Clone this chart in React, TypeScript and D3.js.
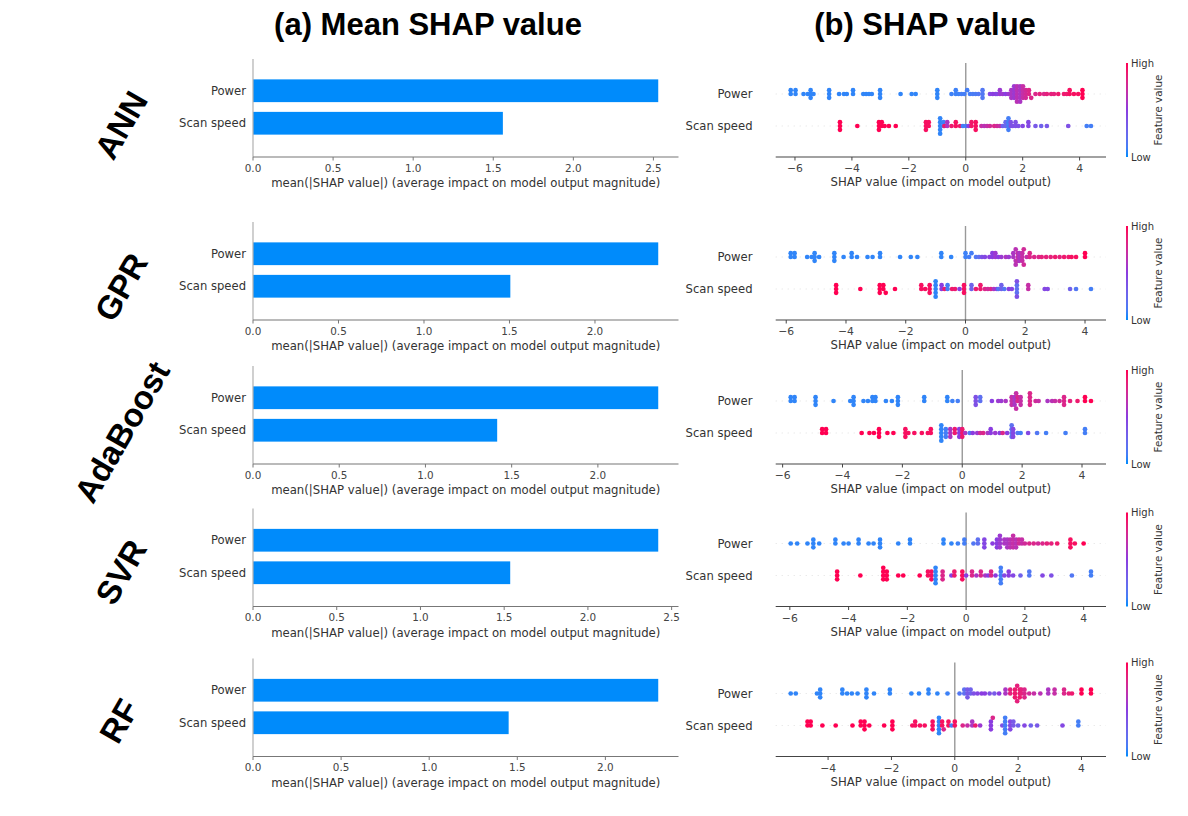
import React from "react";
import * as d3 from "d3";

// ---------- data ----------
const models = ["ANN", "GPR", "AdaBoost", "SVR", "RF"];
const features = ["Power", "Scan speed"];
const meanPower = [2.53, 2.37, 2.35, 2.42, 2.3];
const meanScan = [1.56, 1.505, 1.416, 1.536, 1.451];
const barTicks = [0, 0.5, 1.0, 1.5, 2.0, 2.5];
const shapTicks = [-6, -4, -2, 0, 2, 4];

// [SHAP value, feature value (0 low .. 1 high), number of samples]
type G = [number, number, number];
const annPower: G[] = [[-6.15,0.05,2],[-5.98,0.05,2],[-5.7,0.05,1],[-5.55,0.05,1],[-5.45,0.05,3],[-5.35,0.05,1],[-4.8,0.05,3],[-4.45,0.05,1],[-4.28,0.05,1],[-4.18,0.05,1],[-3.96,0.05,2],[-3.6,0.05,1],[-3.5,0.05,1],[-3.4,0.05,1],[-3.3,0.05,1],[-3.01,0.05,3],[-2.29,0.05,1],[-1.9,0.05,1],[-1.76,0.05,1],[-1.0,0.05,3],[-0.5,0.08,1],[-0.35,0.08,2],[-0.25,0.08,1],[-0.15,0.1,1],[-0.05,0.1,1],[0.05,0.1,1],[0.15,0.1,1],[0.25,0.12,1],[0.35,0.12,1],[0.45,0.15,1],[0.59,0.15,3],[0.85,0.45,1],[0.95,0.5,1],[1.05,0.5,1],[1.1,0.45,1],[1.2,0.55,2],[1.3,0.55,1],[1.4,0.5,1],[1.5,0.55,1],[1.6,0.6,3],[1.7,0.55,4],[1.8,0.65,5],[1.91,0.6,5],[2.01,0.7,4],[2.11,0.75,3],[2.22,0.8,2],[2.3,0.8,1],[2.45,0.8,1],[2.6,0.85,1],[2.75,0.8,1],[2.85,0.85,1],[3.0,0.85,1],[3.1,0.85,1],[3.25,0.9,1],[3.45,0.9,1],[3.55,0.9,1],[3.65,0.95,2],[3.8,0.95,1],[3.95,0.95,1],[4.1,1,3]];
const annScan: G[] = [[-4.42,1,3],[-3.81,1,1],[-3.05,1,3],[-2.95,1,2],[-2.85,1,1],[-2.7,1,1],[-2.46,1,1],[-1.4,0.95,3],[-1.3,0.95,2],[-0.9,0.05,5],[-0.78,0.08,2],[-0.75,0.9,1],[-0.65,0.6,2],[-0.5,0.9,1],[-0.35,0.95,2],[-0.2,0.9,1],[-0.1,0.1,1],[0.0,0.1,1],[0.1,0.5,1],[0.2,0.92,2],[0.35,0.95,3],[0.55,0.7,1],[0.65,0.65,1],[0.75,0.7,1],[0.85,0.75,1],[1.0,0.8,1],[1.1,0.75,1],[1.2,0.7,1],[1.3,0.3,1],[1.4,0.25,2],[1.5,0.1,4],[1.58,0.4,2],[1.65,0.4,1],[1.75,0.4,2],[1.85,0.4,1],[2.0,0.45,1],[2.2,0.45,2],[2.45,0.35,1],[2.65,0.3,1],[2.85,0.35,1],[3.6,0.4,1],[4.25,0.1,1],[4.4,0.1,1]];
const gprPower: G[] = [[-5.85,0.05,2],[-5.72,0.05,2],[-5.3,0.05,1],[-5.15,0.05,1],[-5.05,0.05,3],[-4.9,0.05,1],[-4.39,0.05,3],[-4.08,0.05,1],[-3.81,0.05,2],[-3.63,0.05,1],[-3.28,0.05,1],[-3.11,0.05,1],[-2.86,0.05,2],[-2.19,0.05,1],[-1.83,0.05,1],[-1.61,0.05,1],[-0.81,0.05,2],[-0.48,0.05,1],[0.0,0.08,2],[0.12,0.1,1],[0.2,0.1,1],[0.35,0.15,1],[0.45,0.2,1],[0.55,0.4,1],[0.65,0.45,1],[0.8,0.5,1],[0.9,0.5,2],[1.0,0.55,2],[1.1,0.5,1],[1.2,0.55,1],[1.35,0.6,1],[1.45,0.55,1],[1.6,0.6,2],[1.68,0.65,3],[1.75,0.7,3],[1.8,0.6,3],[1.9,0.7,3],[1.95,0.75,2],[2.05,0.7,1],[2.15,0.8,2],[2.3,0.8,1],[2.45,0.8,1],[2.55,0.85,1],[2.7,0.85,1],[2.85,0.85,1],[3.0,0.9,1],[3.15,0.85,1],[3.3,0.9,1],[3.45,0.9,1],[3.55,0.95,1],[3.7,0.95,1],[4.0,1,2]];
const gprScan: G[] = [[-4.33,1,3],[-3.52,1,1],[-2.87,1,3],[-2.75,1,2],[-2.67,1,1],[-2.36,1,1],[-1.48,0.95,2],[-1.35,0.95,1],[-1.2,0.95,3],[-1.0,0.05,5],[-0.8,0.5,2],[-0.7,0.9,1],[-0.6,0.1,2],[-0.45,0.9,1],[-0.35,0.9,1],[-0.2,0.5,1],[-0.05,0.95,3],[0.2,0.3,2],[0.35,0.9,1],[0.5,0.9,2],[0.65,0.8,1],[0.75,0.75,1],[0.85,0.8,1],[0.95,0.6,1],[1.05,0.5,1],[1.1,0.15,1],[1.2,0.3,2],[1.3,0.15,1],[1.45,0.5,1],[1.55,0.45,1],[1.72,0.2,3],[1.72,0.4,2],[2.1,0.7,2],[2.65,0.45,1],[2.75,0.45,1],[3.5,0.3,1],[3.7,0.15,1],[4.2,0.1,1]];
const adaPower: G[] = [[-5.73,0.05,2],[-5.6,0.05,2],[-4.9,0.05,3],[-4.3,0.05,1],[-3.74,0.05,1],[-3.63,0.05,3],[-3.3,0.05,1],[-3.15,0.05,1],[-3.0,0.05,2],[-2.9,0.05,2],[-2.55,0.05,1],[-2.35,0.05,1],[-2.15,0.05,3],[-1.27,0.05,2],[-0.5,0.05,2],[-0.33,0.08,1],[-0.15,0.1,1],[0.45,0.4,3],[0.6,0.2,2],[0.99,0.5,1],[1.2,0.55,1],[1.3,0.55,1],[1.45,0.6,1],[1.65,0.7,3],[1.75,0.6,3],[1.8,0.7,2],[1.85,0.8,2],[1.95,0.7,3],[2.26,0.8,4],[2.45,0.75,1],[2.55,0.7,1],[2.85,0.6,1],[3.0,0.65,1],[3.1,0.7,1],[3.25,0.75,1],[3.4,0.8,3],[3.6,0.85,1],[3.85,0.9,1],[4.1,1,2],[4.3,1,1]];
const adaScan: G[] = [[-4.68,1,2],[-4.55,1,2],[-3.36,1,1],[-3.1,1,1],[-2.95,1,1],[-2.78,1,3],[-2.5,1,1],[-2.3,1,1],[-1.9,0.95,3],[-1.8,0.95,1],[-1.6,0.95,1],[-1.35,0.95,1],[-1.15,0.95,1],[-1.05,0.95,2],[-0.7,0.05,5],[-0.55,0.1,3],[-0.4,0.6,3],[-0.25,0.9,2],[-0.1,0.5,3],[0.0,0.9,3],[0.1,0.6,1],[0.25,0.15,1],[0.35,0.5,1],[0.5,0.55,1],[0.6,0.75,1],[0.7,0.8,1],[0.85,0.6,1],[0.95,0.5,2],[1.1,0.55,1],[1.25,0.5,1],[1.35,0.8,1],[1.5,0.5,1],[1.65,0.2,4],[1.7,0.45,3],[1.85,0.15,1],[1.95,0.1,1],[2.2,0.45,1],[2.5,0.15,1],[2.8,0.1,1],[3.45,0.1,1],[4.1,0.1,2]];
const svrPower: G[] = [[-5.97,0.05,1],[-5.75,0.05,1],[-5.4,0.05,1],[-5.2,0.05,3],[-5.0,0.05,1],[-4.45,0.05,2],[-4.17,0.05,1],[-4.0,0.05,1],[-3.66,0.05,2],[-3.32,0.05,1],[-3.15,0.05,1],[-2.93,0.05,3],[-2.31,0.05,1],[-1.91,0.05,2],[-0.77,0.05,2],[-0.5,0.05,1],[-0.28,0.08,1],[-0.06,0.1,2],[0.25,0.15,1],[0.4,0.2,2],[0.62,0.45,3],[0.9,0.5,1],[1.05,0.5,3],[1.15,0.55,4],[1.3,0.6,2],[1.4,0.6,3],[1.5,0.65,3],[1.6,0.7,4],[1.7,0.65,3],[1.8,0.75,2],[1.9,0.7,2],[2.0,0.75,1],[2.15,0.8,1],[2.3,0.8,1],[2.45,0.75,1],[2.6,0.8,1],[2.75,0.85,1],[2.9,0.85,1],[3.1,0.9,1],[3.55,0.95,3],[3.7,0.95,1],[4.0,1,1]];
const svrScan: G[] = [[-4.39,1,3],[-3.6,1,1],[-2.82,1,4],[-2.7,1,3],[-2.31,1,1],[-2.14,1,1],[-1.58,1,1],[-1.3,0.95,2],[-1.18,0.95,3],[-1.04,0.05,5],[-0.8,0.8,3],[-0.5,0.5,1],[-0.4,0.9,2],[-0.13,0.95,3],[0.0,0.5,1],[0.2,0.8,2],[0.35,0.6,1],[0.5,0.8,2],[0.65,0.6,1],[0.75,0.5,1],[0.85,0.8,2],[1.0,0.5,1],[1.18,0.1,5],[1.3,0.45,1],[1.45,0.5,2],[1.6,0.45,1],[1.85,0.3,1],[2.15,0.15,2],[2.6,0.45,1],[2.9,0.4,1],[3.6,0.15,1],[4.25,0.1,2]];
const rfPower: G[] = [[-5.18,0.05,1],[-5.02,0.05,1],[-4.35,0.05,1],[-4.25,0.05,3],[-3.55,0.05,2],[-3.4,0.05,1],[-3.25,0.05,1],[-3.07,0.05,1],[-2.79,0.05,3],[-2.55,0.05,1],[-2.05,0.05,2],[-1.37,0.05,1],[-1.13,0.05,1],[-0.83,0.05,2],[-0.55,0.05,1],[-0.23,0.08,1],[0.15,0.15,1],[0.3,0.2,2],[0.4,0.35,3],[0.5,0.3,2],[0.6,0.4,1],[0.72,0.45,1],[0.85,0.5,1],[0.95,0.5,1],[1.1,0.4,1],[1.25,0.35,1],[1.4,0.5,1],[1.6,0.6,2],[1.75,0.85,2],[1.9,0.9,3],[1.97,0.85,2],[2.05,0.9,3],[2.1,0.85,2],[2.2,0.8,3],[2.35,0.75,1],[2.5,0.7,1],[2.7,0.65,1],[2.95,0.6,2],[3.15,0.7,2],[3.45,0.8,2],[3.6,0.85,1],[3.7,0.9,1],[4.0,1,2],[4.3,1,2]];
const rfScan: G[] = [[-4.65,1,2],[-4.55,1,2],[-4.18,1,1],[-3.76,1,1],[-3.23,1,1],[-2.97,1,2],[-2.85,1,3],[-2.7,1,1],[-2.23,1,1],[-1.97,1,3],[-1.34,0.95,1],[-1.25,0.95,2],[-1.1,0.95,1],[-0.95,0.95,1],[-0.7,0.95,3],[-0.5,0.05,5],[-0.4,0.95,2],[-0.35,0.8,1],[-0.2,0.95,2],[-0.1,0.1,1],[0.0,0.95,2],[0.25,0.8,1],[0.4,0.7,1],[0.55,0.6,2],[0.65,0.9,1],[0.8,0.55,1],[1.14,0.5,3],[1.2,0.8,1],[1.5,0.4,1],[1.59,0.1,5],[1.75,0.45,3],[1.85,0.35,2],[2.0,0.3,1],[2.2,0.45,1],[2.4,0.3,1],[2.6,0.35,1],[3.4,0.45,1],[3.9,0.1,2]];

const swarmData: G[][][] = [
  [annPower, annScan],
  [gprPower, gprScan],
  [adaPower, adaScan],
  [svrPower, svrScan],
  [rfPower, rfScan],
];

// ---------- layout ----------
const W = 1188, H = 816;
const panelBottoms = [157, 320, 464, 606.5, 756.5];
const labelCenters: [number, number][] = [[121, 125], [121, 287], [122, 432], [121, 572], [119, 721]];
const barX0 = 253, barX1 = 678.5;
const swX0 = 775.7, swX1 = 1106;
const cbX = 1127;
const BLUE = "#008bfb";
const PURPLE = "#8a3ce0";
const RED = "#ff0052";
const FONT = "'DejaVu Sans', Verdana, sans-serif";
const TXT = "#333333";

const colorScale = d3
  .scaleLinear<string>()
  .domain([0, 0.5, 1])
  .range([BLUE, PURPLE, RED])
  .interpolate(d3.interpolateLab);

type Pt = { cx: number; cy: number; f: number };

function swarm(groups: G[], x: d3.ScaleLinear<number, number>, rowY: number, rowPx: number): Pt[] {
  const pts: { s: number; f: number }[] = [];
  groups.forEach(([s, f, n]) => { for (let i = 0; i < n; i++) pts.push({ s, f }); });
  const vals = pts.map((p) => p.s);
  const mn = d3.min(vals) as number, mx = d3.max(vals) as number;
  const nb = 100;
  const q = pts.map((p) => Math.round((nb * (p.s - mn)) / (mx - mn + 1e-8)));
  const order = d3.range(pts.length).sort((a, b) => q[a] - q[b] || a - b);
  const ys = new Array(pts.length).fill(0);
  let layer = 0, last = -1;
  for (const i of order) {
    if (q[i] !== last) layer = 0;
    ys[i] = Math.ceil(layer / 2) * ((layer % 2) * 2 - 1);
    layer++;
    last = q[i];
  }
  const maxY = d3.max(ys.map((y) => y + 1)) as number;
  const k = (0.9 * 0.4) / maxY;
  return pts.map((p, i) => ({ cx: x(p.s), cy: rowY - ys[i] * k * rowPx, f: p.f }));
}

function BarPanel({ idx }: { idx: number }) {
  const B = panelBottoms[idx];
  const vals = [meanPower[idx], meanScan[idx]];
  const x = d3.scaleLinear().domain([0, (d3.max(vals) as number) * 1.05]).range([barX0, barX1]);
  const y = d3.scaleBand<string>().domain(features).range([B - 82.5, B - 17.5]).paddingInner(0.3).paddingOuter(0.15);
  const ticks = barTicks.filter((t) => t <= x.domain()[1] + 1e-9);
  return (
    <g>
      {features.map((f, i) => (
        <rect key={f} x={x(0)} y={y(f)} width={x(vals[i]) - x(0)} height={y.bandwidth()} fill={BLUE} />
      ))}
      <line x1={barX0} x2={barX0} y1={B - 98} y2={B} stroke="#b0b0b0" strokeWidth={1.2} />
      <line x1={barX0} x2={barX1} y1={B} y2={B} stroke="#777" strokeWidth={1.2} />
      {ticks.map((t) => (
        <g key={t}>
          <line x1={x(t)} x2={x(t)} y1={B} y2={B + 3.5} stroke="#777" strokeWidth={1} />
          <text x={x(t)} y={B + 11} dy="0.35em" textAnchor="middle" fontSize={10.4} fill="#444" fontFamily={FONT}>
            {d3.format(".1f")(t)}
          </text>
        </g>
      ))}
      {features.map((f) => (
        <text key={f} x={barX0 - 7} y={(y(f) as number) + y.bandwidth() / 2} dy="0.35em" textAnchor="end" fontSize={11.6} fill={TXT} fontFamily={FONT}>
          {f}
        </text>
      ))}
      <text x={(barX0 + barX1) / 2} y={B + 26} dy="0.35em" textAnchor="middle" fontSize={11.7} fill={TXT} fontFamily={FONT}>
        mean(|SHAP value|) (average impact on model output magnitude)
      </text>
    </g>
  );
}

function SwarmPanel({ idx }: { idx: number }) {
  const B = panelBottoms[idx];
  const rows = swarmData[idx];
  const all = rows.flat().map((g) => g[0]);
  const mn = d3.min(all) as number, mx = d3.max(all) as number;
  const pad = (mx - mn) * 0.05;
  const x = d3.scaleLinear().domain([mn - pad, mx + pad]).range([swX0, swX1]);
  const rowY = d3.scaleLinear().domain([0, 1]).range([B - 63, B - 31]);
  const rowPx = rowY(1) - rowY(0);
  const ticks = shapTicks.filter((t) => t >= x.domain()[0] && t <= x.domain()[1]);
  const gradId = `cb${idx}`;
  const top = B - 94;
  return (
    <g>
      <defs>
        <linearGradient id={gradId} x1="0" y1="1" x2="0" y2="0">
          {d3.range(0, 1.0001, 0.1).map((t) => (
            <stop key={t} offset={t} stopColor={colorScale(t)} />
          ))}
        </linearGradient>
      </defs>
      {features.map((f, i) => (
        <line key={f} x1={swX0} x2={swX1} y1={rowY(i)} y2={rowY(i)} stroke="#cccccc" strokeWidth={0.6} strokeDasharray="1 5" />
      ))}
      <line x1={x(0)} x2={x(0)} y1={top} y2={B} stroke="#999" strokeWidth={1.4} />
      {rows.map((g, i) =>
        swarm(g, x, rowY(i), rowPx).map((p, j) => (
          <circle key={`${i}-${j}`} cx={p.cx} cy={p.cy} r={2.35} fill={colorScale(p.f)} />
        ))
      )}
      <line x1={swX0} x2={swX1} y1={B} y2={B} stroke="#444" strokeWidth={1.1} />
      {ticks.map((t) => (
        <g key={t}>
          <line x1={x(t)} x2={x(t)} y1={B} y2={B + 3.5} stroke="#444" strokeWidth={1} />
          <text x={x(t)} y={B + 11.5} dy="0.35em" textAnchor="middle" fontSize={10.8} fill="#444" fontFamily={FONT}>
            {t < 0 ? `\u2212${Math.abs(t)}` : `${t}`}
          </text>
        </g>
      ))}
      {features.map((f, i) => (
        <text key={f} x={752.5} y={rowY(i)} dy="0.35em" textAnchor="end" fontSize={11.6} fill={TXT} fontFamily={FONT}>
          {f}
        </text>
      ))}
      <text x={(swX0 + swX1) / 2} y={B + 25} dy="0.35em" textAnchor="middle" fontSize={11.7} fill={TXT} fontFamily={FONT}>
        SHAP value (impact on model output)
      </text>
      <rect x={cbX - 1} y={top} width={2} height={B - top} fill={`url(#${gradId})`} />
      <text x={cbX + 4} y={top} dy="0.35em" fontSize={10} fill={TXT} fontFamily={FONT}>High</text>
      <text x={cbX + 4} y={B} dy="0.35em" fontSize={10} fill={TXT} fontFamily={FONT}>Low</text>
      <text transform={`translate(${cbX + 31},${(top + B) / 2}) rotate(-90)`} dy="0.35em" textAnchor="middle" fontSize={10.4} fill={TXT} fontFamily={FONT}>
        Feature value
      </text>
    </g>
  );
}

export default function App() {
  return (
    <svg width={W} height={H} style={{ position: "absolute", left: 0, top: 0, background: "#fff" }}>
      <rect width={W} height={H} fill="#fff" />
      <text x={428} y={35} textAnchor="middle" fontSize={31} fontWeight="bold" fontFamily="'Liberation Sans', Arial, sans-serif" fill="#000">
        (a) Mean SHAP value
      </text>
      <text x={925} y={35} textAnchor="middle" fontSize={31} fontWeight="bold" fontFamily="'Liberation Sans', Arial, sans-serif" fill="#000">
        (b) SHAP value
      </text>
      {models.map((m, i) => (
        <text
          key={m}
          transform={`translate(${labelCenters[i][0]},${labelCenters[i][1]}) rotate(-60)`}
          textAnchor="middle"
          dy="0.35em"
          fontSize={33}
          fontWeight="bold"
          fontFamily="'Liberation Sans', Arial, sans-serif"
          fill="#000"
        >
          {m}
        </text>
      ))}
      {models.map((m, i) => (
        <g key={m}>
          <BarPanel idx={i} />
          <SwarmPanel idx={i} />
        </g>
      ))}
    </svg>
  );
}
